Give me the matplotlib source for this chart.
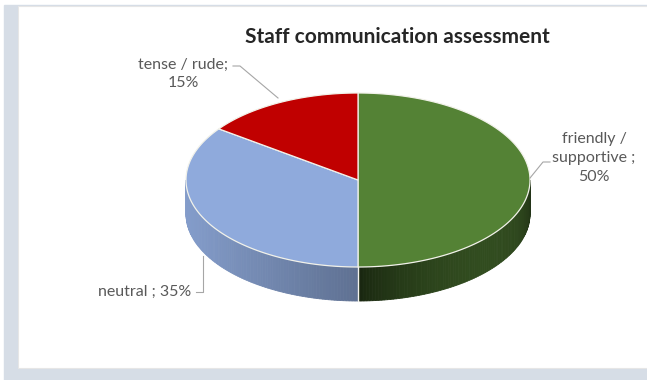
import numpy as np
import matplotlib
matplotlib.use("Agg")
import matplotlib.pyplot as plt
from matplotlib.patches import Polygon, Rectangle
from matplotlib.colors import to_rgb

plt.rcParams['font.family'] = ['Lato', 'DejaVu Sans']

# Survey result
title = "Staff communication assessment"
categories = ["friendly / supportive", "neutral", "tense / rude"]
label_heads = ["friendly /\nsupportive ;\n", "neutral ; ", "tense / rude;\n"]
values = [50, 35, 15]
colors = ["#548235", "#8faadc", "#c00000"]

# Pie geometry in pixel units
cx, cy = 358, 180
ra, rb = 172, 87
depth = 34


def rim(phi):
    # phi in degrees, clockwise from 12 o'clock
    t = np.radians(phi)
    return cx + ra * np.sin(t), cy - rb * np.cos(t)


def side_shade(i, phi):
    s = np.sin(np.radians(phi))
    if i == 0:
        # right-hand slice: dark at front, a little lighter towards the middle
        return 0.28 + 0.26 * np.sin(np.radians(2 * (phi - 90))) ** 0.7 + 0.06 * s
    return 0.66 - 0.26 * s


fig = plt.figure(figsize=(6.47, 3.80), dpi=100)
ax = fig.add_axes([0, 0, 1, 1])
ax.set_xlim(0, 647)
ax.set_ylim(380, 0)
ax.axis("off")

# frame around the chart area
ax.add_patch(Rectangle((4, 5), 643, 375, color="#d6dde6", zorder=0))
ax.add_patch(Rectangle((18, 6), 640, 362, facecolor="white",
                       edgecolor="#e6e6e6", lw=0.8, zorder=1))

starts = np.concatenate([[0], np.cumsum(values)[:-1]]) / sum(values) * 360
spans = np.array(values) / sum(values) * 360

# side walls (only the front half is visible)
for i, (st, sp) in enumerate(zip(starts, spans)):
    lo, hi = max(st, 90), min(st + sp, 270)
    if hi <= lo:
        continue
    base = np.array(to_rgb(colors[i]))
    phis = np.linspace(lo, hi, int(hi - lo) + 2)
    for p0, p1 in zip(phis[:-1], phis[1:]):
        x0, y0 = rim(p0)
        x1, y1 = rim(p1)
        f = side_shade(i, (p0 + p1) / 2)
        col = np.clip(base * f, 0, 1)
        ax.add_patch(Polygon([(x0, y0), (x1, y1), (x1, y1 + depth), (x0, y0 + depth)],
                             closed=True, facecolor=col, edgecolor=col, lw=0.6, zorder=2))

# separator at 6 o'clock through the wall
x6, y6 = rim(180)
ax.plot([x6, x6], [y6, y6 + depth], color="#f4f4ee", lw=1.0, zorder=3)

# top faces
for i, (st, sp) in enumerate(zip(starts, spans)):
    phis = np.linspace(st, st + sp, int(sp) * 2 + 2)
    pts = [(cx, cy)] + [rim(p) for p in phis]
    ax.add_patch(Polygon(pts, closed=True, facecolor=colors[i],
                         edgecolor="#f2f2ea", lw=0.9, zorder=4))

# data labels with leader lines
lab_col = "#595959"
fs = 11.5
lab_pos = [(594, 158), (145, 292), (183, 74)]
for i, (head, v) in enumerate(zip(label_heads, values)):
    ax.text(lab_pos[i][0], lab_pos[i][1], f"{head}{v}%", ha="center", va="center",
            fontsize=fs, color=lab_col, linespacing=1.45, zorder=6)

ax.plot([550, 543, 530], [162, 162, 178], color="#a6a6a6", lw=0.8, zorder=5)
ax.plot([196, 203, 203], [292, 292, 256], color="#a6a6a6", lw=0.8, zorder=5)
ax.plot([233, 240, 278], [66, 66, 98], color="#a6a6a6", lw=0.8, zorder=5)

ax.text(397, 37, title, ha="center", va="center", fontsize=15,
        fontweight="bold", color="#262626", zorder=6)

fig.savefig("out.png", dpi=100, facecolor="white")
